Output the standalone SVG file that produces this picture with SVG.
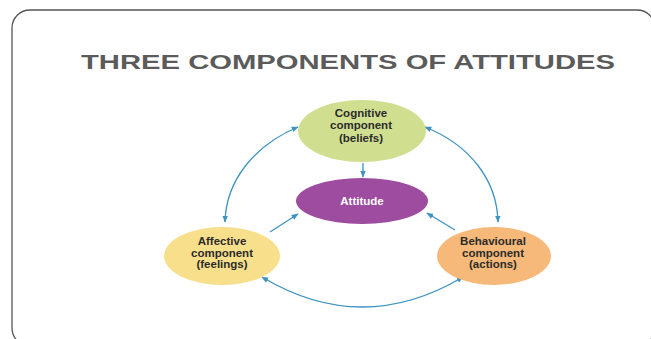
<svg xmlns="http://www.w3.org/2000/svg" width="651" height="339" viewBox="0 0 651 339">
  <defs>
    <marker id="ah" viewBox="0 0 10 10" refX="9" refY="5" markerWidth="7" markerHeight="7" orient="auto-start-reverse" markerUnits="userSpaceOnUse">
      <path d="M0,1 L10,5 L0,9 Z" fill="#3d93c1"/>
    </marker>
  </defs>
  <style>
    .frame { fill: #ffffff; stroke: #555555; stroke-width: 1.3; }
    .title { font-family: "Liberation Sans", Arial, sans-serif; font-weight: bold; font-size: 21px; fill: #5b5b5b; }
    .lbl { font-family: "Liberation Sans", Arial, sans-serif; font-weight: bold; font-size: 11.5px; fill: #2b2b2b; text-anchor: middle; }
    .lblw { font-family: "Liberation Sans", Arial, sans-serif; font-weight: bold; font-size: 11.5px; fill: #ffffff; text-anchor: middle; }
    .conn { fill: none; stroke: #3d93c1; stroke-width: 1.3; }
  </style>
  <rect x="0" y="0" width="651" height="339" fill="#ffffff"/>
  <rect class="frame" x="12" y="10" width="643" height="336" rx="18" ry="18"/>
  <text class="title" x="81" y="69" textLength="534" lengthAdjust="spacingAndGlyphs">THREE COMPONENTS OF ATTITUDES</text>

  <g id="connectors">
    <path class="conn" d="M363,163 L363,177" marker-end="url(#ah)"/>
    <path class="conn" d="M270,232 L298,214" marker-end="url(#ah)"/>
    <path class="conn" d="M455,230 L427,213" marker-end="url(#ah)"/>
    <path class="conn" d="M298,127 C255,145 226,180 225,222" marker-start="url(#ah)" marker-end="url(#ah)"/>
    <path class="conn" d="M425,127 C470,145 497,180 498,222" marker-start="url(#ah)" marker-end="url(#ah)"/>
    <path class="conn" d="M262,277 Q362,337 463,277" marker-start="url(#ah)" marker-end="url(#ah)"/>
  </g>

  <g id="cognitive">
    <ellipse cx="362" cy="131" rx="64" ry="31" fill="#d0de90"/>
    <text class="lbl" x="361" y="117">Cognitive</text>
    <text class="lbl" x="361" y="129">component</text>
    <text class="lbl" x="361" y="142">(beliefs)</text>
  </g>

  <g id="attitude">
    <ellipse cx="362" cy="201" rx="66" ry="23" fill="#9e4c9f"/>
    <text class="lblw" x="362" y="205">Attitude</text>
  </g>

  <g id="affective">
    <ellipse cx="222" cy="256" rx="58" ry="29" fill="#f8df8b"/>
    <text class="lbl" x="222" y="245">Affective</text>
    <text class="lbl" x="222" y="257">component</text>
    <text class="lbl" x="222" y="268">(feelings)</text>
  </g>

  <g id="behavioural">
    <ellipse cx="494" cy="256" rx="57" ry="29" fill="#f6b979"/>
    <text class="lbl" x="493" y="245">Behavioural</text>
    <text class="lbl" x="493" y="257">component</text>
    <text class="lbl" x="493" y="268">(actions)</text>
  </g>
</svg>
